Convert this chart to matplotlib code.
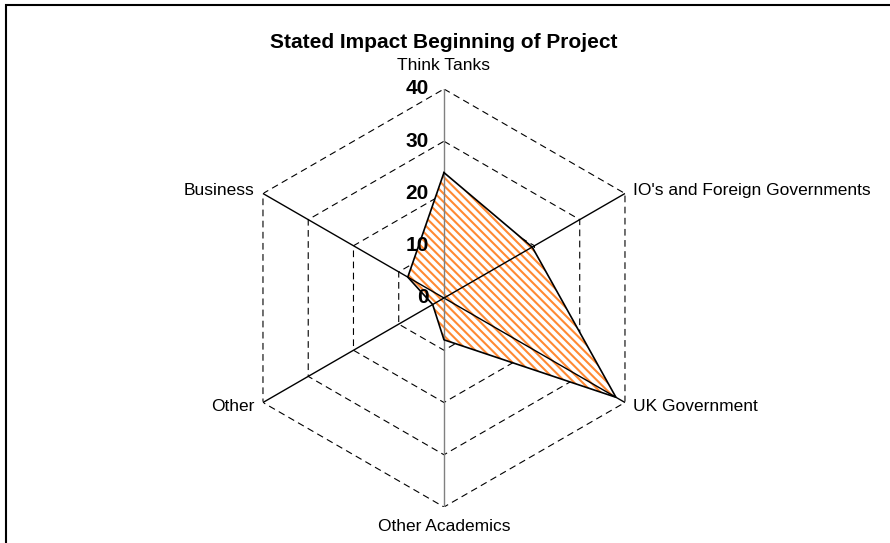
import numpy as np
import matplotlib.pyplot as plt
from matplotlib.patches import Rectangle

plt.rcParams['font.family'] = ['Liberation Sans', 'DejaVu Sans']
plt.rcParams['hatch.linewidth'] = 1.5

categories = ["Think Tanks", "IO's and Foreign Governments", "UK Government",
              "Other Academics", "Other", "Business"]
values = [24, 19.5, 38, 8, 2.5, 8]
rings = [10, 20, 30, 40]
ring_labels = ["0", "10", "20", "30", "40"]

n = len(categories)
theta = np.arange(n) * 2 * np.pi / n
theta_c = np.append(theta, theta[0])

fig = plt.figure(figsize=(8.9, 5.43), dpi=100)
fig.patches.append(Rectangle((6 / 890, -0.1), 1.1, (543 - 5) / 543 + 0.1,
                             transform=fig.transFigure, fill=False,
                             edgecolor='black', linewidth=1.5))

ax = fig.add_axes([0.264, 0.0663, 0.4697, 0.7698], projection='polar')
ax.set_theta_offset(np.pi / 2)
ax.set_theta_direction(-1)
ax.set_ylim(0, 40)
ax.set_axis_off()

# dashed hexagon grid
for r in rings:
    ax.plot(theta_c, [r] * (n + 1), color='black', linestyle=(0, (6, 4)), linewidth=0.8)

# spokes (the value axis is grey)
for i, t in enumerate(theta):
    c = '#808080' if i in (0, 3) else 'black'
    ax.plot([t, t], [0, 40], color=c, linewidth=1.0, zorder=3)

# data polygon, orange hatched
vals_c = np.append(values, values[0])
ax.fill(theta_c, vals_c, facecolor='white', edgecolor='#FF8A33', hatch='\\\\\\\\',
        linewidth=0, zorder=2)
ax.plot(theta_c, vals_c, color='black', linewidth=1.2, zorder=4)

# value labels along top axis
for i, lab in enumerate(ring_labels):
    ax.annotate(lab, xy=(0, i * 10), xytext=(-11, 0), textcoords='offset points',
                ha='right', va='center', fontsize=15, fontweight='bold', zorder=5)

# category labels
offsets = [(0, 17, 'center', 'center'), (6, 2, 'left', 'center'),
           (6, -3, 'left', 'center'), (0, -14, 'center', 'center'),
           (-6, -3, 'right', 'center'), (-6, 2, 'right', 'center')]
for t, lab, (dx, dy, ha, va) in zip(theta, categories, offsets):
    ax.annotate(lab, xy=(t, 40), xytext=(dx, dy), textcoords='offset points',
                ha=ha, va=va, fontsize=12.5)

fig.text(0.499, 1 - 43 / 543, "Stated Impact Beginning of Project", ha='center',
         va='center', fontsize=15, fontweight='bold')

fig.savefig('out.png', dpi=100, facecolor='white')
